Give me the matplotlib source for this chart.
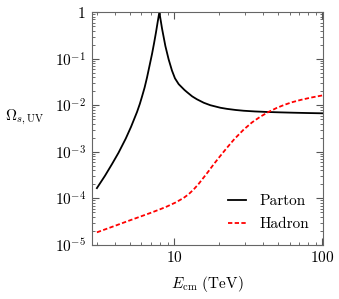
#!/usr/bin/env python3
"""
Omega_s,UV versus centre-of-mass energy, parton and hadron level.
"""
import math

import matplotlib
matplotlib.use('Agg')
import matplotlib.pyplot as plt
from matplotlib.ticker import FixedLocator, FuncFormatter, LogLocator, NullFormatter

# Parton level
parton_E = [3.0, 3.4, 3.8, 4.2, 4.7, 5.1, 5.6, 5.85, 6.05, 6.3, 6.54, 6.8,
            7.07, 7.3, 7.52, 7.72, 7.92, 8.08, 8.26, 8.7, 9.15, 9.64, 10.1,
            10.7, 11.7, 12.2, 13.2, 14.2, 15.8, 17.5, 20.5, 22.7, 26.0, 29.4,
            35.0, 42.3, 52.0, 64.0, 80.0, 100.0]
parton_omega = [1.66e-4, 3.05e-4, 5.5e-4, 9.57e-4, 1.93e-3, 3.44e-3, 7.2e-3,
                1.076e-2, 1.538e-2, 2.41e-2, 3.96e-2, 7.08e-2,
                0.127, 0.218, 0.371, 0.619, 1.0, 0.685, 0.446, 0.188, 0.0975,
                0.0558, 0.0380, 0.0285, 0.0214, 0.0191, 0.01556, 0.01349,
                0.01135, 0.01005, 0.00885, 0.00838, 0.00793, 0.00764, 0.00738,
                0.00719, 0.00705, 0.00693, 0.00682, 0.00673]

# Hadron level
hadron_E = [3.0, 4.0, 5.0, 6.0, 6.9, 8.0, 8.9, 10.2, 11.55, 12.5, 13.5, 14.6,
            15.8, 17.0, 18.4, 20.2, 22.5, 25.5, 29.4, 33.5, 38.1, 43.4, 49.0,
            55.0, 62.0, 71.3, 84.0, 100.0]
hadron_omega = [1.86e-5, 2.59e-5, 3.36e-5, 4.14e-5, 4.86e-5, 5.81e-5, 6.67e-5,
                8.15e-5, 1.02e-4, 1.23e-4, 1.55e-4, 2.05e-4,
                2.82e-4, 3.81e-4, 5.35e-4, 7.8e-4, 1.19e-3, 1.90e-3, 3.01e-3,
                4.30e-3, 5.70e-3, 7.24e-3, 8.75e-3, 1.016e-2, 1.159e-2,
                1.306e-2, 1.469e-2, 1.633e-2]

x_ticks = [10, 100]
y_ticks = [1e-5, 1e-4, 1e-3, 1e-2, 1e-1, 1]

plt.rcParams['font.family'] = 'serif'
plt.rcParams['font.serif'] = ['cmr10', 'DejaVu Serif']
plt.rcParams['mathtext.fontset'] = 'cm'
plt.rcParams['axes.unicode_minus'] = False
plt.rcParams['font.size'] = 11


def _ylabel(v, pos):
    if v == 1:
        return '$1$'
    return '$10^{%d}$' % int(round(math.log10(v)))


fig = plt.figure(figsize=(3.39, 2.99), dpi=100)
ax = fig.add_axes([0.270, 0.181, 0.683, 0.778])

ax.plot(parton_E, parton_omega, color='black', lw=1.3, label='Parton')
ax.plot(hadron_E, hadron_omega, color='red', lw=1.3, ls='--',
        dashes=(2.4, 1.3), label='Hadron')

ax.set_xscale('log')
ax.set_yscale('log')
ax.set_xlim(2.76, 101)
ax.set_ylim(1e-5, 1)

ax.xaxis.set_major_locator(FixedLocator(x_ticks))
ax.xaxis.set_major_formatter(FuncFormatter(lambda v, p: '$%d$' % v))
ax.xaxis.set_minor_locator(LogLocator(base=10, subs=range(2, 10)))
ax.xaxis.set_minor_formatter(NullFormatter())
ax.yaxis.set_major_locator(FixedLocator(y_ticks))
ax.yaxis.set_major_formatter(FuncFormatter(_ylabel))
ax.yaxis.set_minor_locator(LogLocator(base=10, subs=range(2, 10)))
ax.yaxis.set_minor_formatter(NullFormatter())

ax.tick_params(which='both', direction='in', top=True, right=True,
               color='#555555', labelsize=11)
ax.tick_params(which='major', length=5, width=0.8, pad=4)
ax.tick_params(which='minor', length=2.5, width=0.6)
for s in ax.spines.values():
    s.set_color('#666666')
    s.set_linewidth(0.8)

ax.set_xlabel(r'$E_{\rm cm}$ (TeV)', fontsize=11, labelpad=6)
ax.set_ylabel(r'$\Omega_{s,{\rm UV}}$', fontsize=11, rotation=0,
              ha='center', va='center')
ax.yaxis.set_label_coords(-0.288, 0.546)

ax.legend(loc='lower right', frameon=False, fontsize=11, handlelength=1.15,
          handletextpad=0.9, labelspacing=0.6)

fig.savefig('out.png', dpi=100)
